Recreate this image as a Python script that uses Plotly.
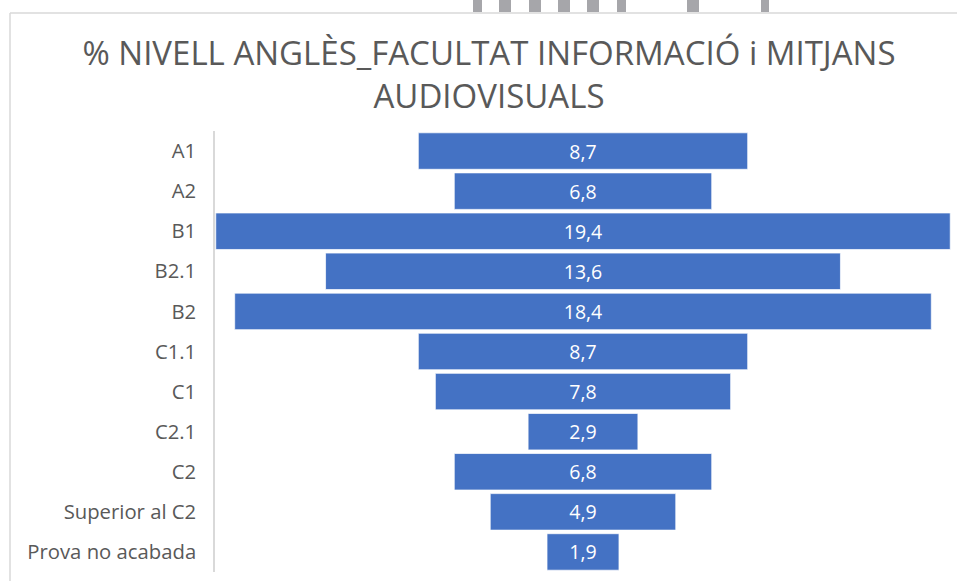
import plotly.graph_objects as go

categories = ["A1", "A2", "B1", "B2.1", "B2", "C1.1", "C1", "C2.1", "C2",
              "Superior al C2", "Prova no acabada"]
values = [8.7, 6.8, 19.4, 13.6, 18.4, 8.7, 7.8, 2.9, 6.8, 4.9, 1.9]
title_text = "% NIVELL ANGLÈS_FACULTAT INFORMACIÓ i MITJANS<br>AUDIOVISUALS"

W, H = 957, 581
ML, MR, MT, MB = 215, 6, 131, 9
PW, PH = W - ML - MR, H - MT - MB


def px(x):
    return (x - ML) / PW


def py(y):
    return (H - MB - y) / PH


fig = go.Figure(go.Funnel(
    y=categories,
    x=values,
    marker=dict(color="#4472C4", line=dict(color="rgba(255,255,255,0.7)", width=1)),
    connector=dict(visible=False),
    texttemplate="%{x:.1f}",
    textposition="inside",
    insidetextanchor="middle",
    textfont=dict(color="white", size=19.5, family="Open Sans"),
    constraintext="none",
    hoverinfo="y+x",
))

shapes = []
# chart-area border (top and left edges)
shapes.append(dict(type="line", xref="paper", yref="paper", x0=px(10), x1=px(957),
                   y0=py(13), y1=py(13), line=dict(color="#d9d9d9", width=1.5)))
shapes.append(dict(type="line", xref="paper", yref="paper", x0=px(10), x1=px(10),
                   y0=py(13), y1=py(581), line=dict(color="#d9d9d9", width=1.5)))
# fragments of a neighbouring chart visible at the top edge
for a, b in [(473, 482), (499, 511), (529, 541), (558, 570), (587, 599),
             (617, 626), (687, 699), (761, 769)]:
    shapes.append(dict(type="rect", xref="paper", yref="paper", x0=px(a), x1=px(b),
                       y0=py(12), y1=py(0), fillcolor="#a6a6aa", line=dict(width=0)))

fig.update_layout(
    width=W, height=H,
    margin=dict(l=ML, r=MR, t=MT, b=MB),
    paper_bgcolor="white", plot_bgcolor="white",
    separators=",.",
    showlegend=False,
    funnelgap=0.09,
    title=dict(text=title_text, x=489 / W, xanchor="center", xref="container",
               y=1 - 65 / H, yanchor="middle",
               font=dict(family="Open Sans", size=33, color="#595959")),
    xaxis=dict(range=[-9.72, 9.72], visible=False, fixedrange=True),
    yaxis=dict(showline=True, linecolor="#d9d9d9", linewidth=1.5, showgrid=False,
               ticks="", ticklabelstandoff=13,
               tickfont=dict(family="Open Sans", size=20.3, color="#595959")),
    shapes=shapes,
    font=dict(family="Open Sans"),
)

fig.write_html("out.html",
               config={"displayModeBar": False},
               post_script="document.body.style.margin='0';document.body.style.padding='0';")
